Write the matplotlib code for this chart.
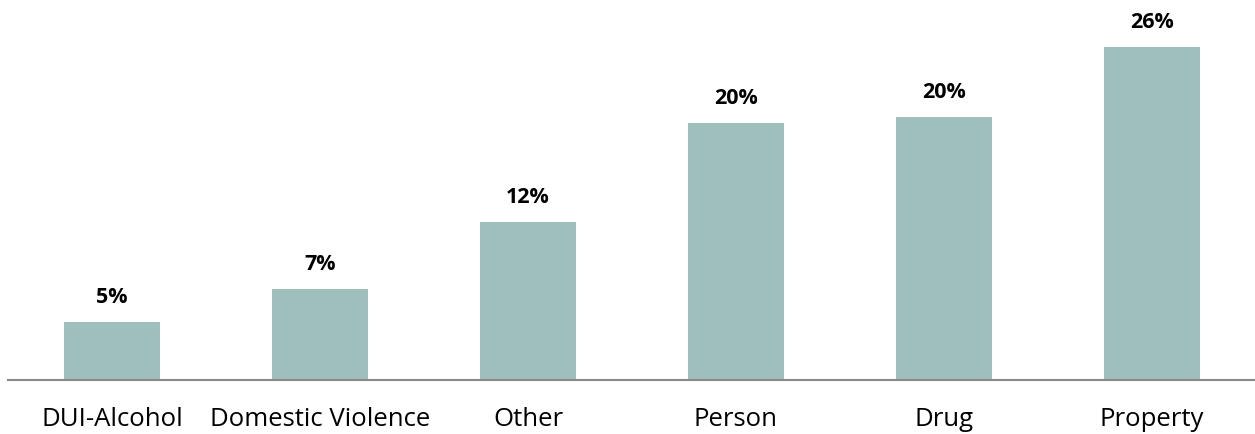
import matplotlib
matplotlib.use('Agg')
import matplotlib.pyplot as plt

categories = ['DUI-Alcohol', 'Domestic Violence', 'Other', 'Person', 'Drug', 'Property']
values = [4.5, 7.1, 12.3, 20.1, 20.5, 26.0]
labels = ['5%', '7%', '12%', '20%', '20%', '26%']

plt.rcParams['font.family'] = ['Open Sans', 'DejaVu Sans']

fig = plt.figure(figsize=(12.55, 4.35), dpi=100)
ax = fig.add_axes([8 / 1255, 54 / 435, 1248 / 1255, 381 / 435])

x = range(len(categories))
ax.bar(x, values, width=0.46, color='#9fbfbd')
for i, v in enumerate(values):
    ax.text(i, v + 1.56, labels[i], ha='center', va='baseline', fontsize=15.5, fontweight='bold', color='black')

ax.set_xlim(-0.5, 5.5)
ax.set_ylim(0, 29.75)
ax.set_xticks(list(x))
ax.set_xticklabels(categories, fontsize=18.5)
ax.tick_params(axis='x', length=0, pad=19)
ax.set_yticks([])
for s in ['top', 'right', 'left']:
    ax.spines[s].set_visible(False)
ax.spines['bottom'].set_color('#898989')
ax.spines['bottom'].set_linewidth(1.5)

fig.savefig('out.png', dpi=100)
